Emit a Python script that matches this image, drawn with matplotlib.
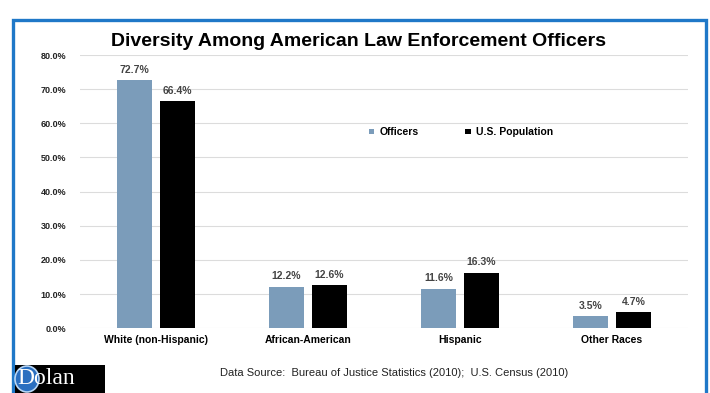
import matplotlib.pyplot as plt
import numpy as np
from matplotlib.patches import Rectangle, Ellipse

categories = ['White (non-Hispanic)', 'African-American', 'Hispanic', 'Other Races']
officers = [72.7, 12.2, 11.6, 3.5]
population = [66.4, 12.6, 16.3, 4.7]
yticks = [0, 10, 20, 30, 40, 50, 60, 70, 80]

plt.rcParams['font.family'] = ['Liberation Sans', 'DejaVu Sans']

fig = plt.figure(figsize=(7.1, 3.93), dpi=100)
ax = fig.add_axes([0.1127, 0.165, 0.8563, 0.695])

x = np.arange(len(categories))
w = 0.225
off = 0.142
b1 = ax.bar(x - off, officers, w, color='#7b9cba', label='Officers')
b2 = ax.bar(x + off, population, w, color='black', label='U.S. Population')

for bars, vals in [(b1, officers), (b2, population)]:
    for r, v in zip(bars, vals):
        ax.text(r.get_x() + r.get_width() / 2, v + 1.5, f'{v:.1f}%', ha='center', va='bottom',
                fontsize=7.5, fontweight='bold', color='#444444')

ax.set_xlim(-0.5, 3.5)
ax.set_ylim(0, 80)
ax.set_yticks(yticks)
ax.set_yticklabels([f'{t:.1f}%' for t in yticks], fontsize=6.5, fontweight='bold', color='#222222')
ax.set_xticks(x)
ax.set_xticklabels(categories, fontsize=7.5, fontweight='bold')
ax.tick_params(length=0)
ax.tick_params(axis='y', pad=10)
ax.tick_params(axis='x', pad=5)
ax.yaxis.grid(True, color='#dcdcdc', linewidth=0.8)
ax.set_axisbelow(True)
for s in ax.spines.values():
    s.set_visible(False)

ax.legend(loc='upper left', bbox_to_anchor=(0.46, 0.77), ncol=2, frameon=False,
          prop={'size': 7.5, 'weight': 'bold'}, handlelength=0.5, handleheight=0.5,
          columnspacing=4.5, handletextpad=0.5)

fig.text(0.505, 0.895, 'Diversity Among American Law Enforcement Officers', ha='center', va='center',
         fontsize=14, fontweight='bold')
fig.text(0.555, 0.052, 'Data Source:  Bureau of Justice Statistics (2010);  U.S. Census (2010)',
         ha='center', va='center', fontsize=8, color='#222222')

# blue frame
fig.patches.append(Rectangle((13 / 710, -0.05), 693 / 710, 1.025 - 10 / 393, transform=fig.transFigure,
                             fill=False, edgecolor='#1f78c8', linewidth=2.4))

# logo
fig.patches.append(Rectangle((15 / 710, 0), 90 / 710, 28 / 393, transform=fig.transFigure,
                             facecolor='black', edgecolor='none'))
fig.patches.append(Ellipse((27 / 710, 14 / 393), 24 / 710, 26 / 393, transform=fig.transFigure,
                           facecolor='#2a6fc0', edgecolor='#b8d6f5', linewidth=1.2))
fig.text(17 / 710, 0.036, 'Dolan', ha='left', va='center', fontsize=17, color='white',
         family='Liberation Serif')

fig.savefig('out.png', dpi=100)
